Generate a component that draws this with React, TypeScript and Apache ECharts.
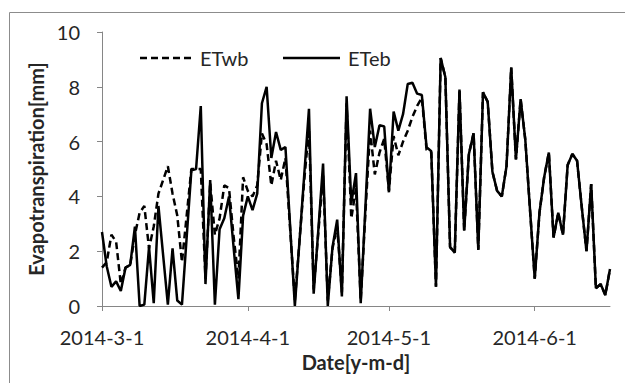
import React, { useEffect, useRef } from "react";
import * as echarts from "echarts";

const START = { y: 2014, m: 3, d: 1 };
const DAY_COUNT = 109; // 2014-3-1 .. 2014-6-17

const ETeb: number[] = [
  2.7, 1.45, 0.7, 0.9, 0.55, 1.4, 1.5, 2.9, 0.0, 0.05,
  2.15, 0.1, 3.65, 1.85, 0.05, 2.1, 0.2, 0.05, 2.5, 4.95,
  5.0, 7.3, 0.8, 4.6, 0.05, 2.8, 3.2, 4.0, 2.1, 0.25,
  3.3, 4.0, 3.5, 4.1, 7.4, 8.0, 5.4, 6.35, 5.7, 5.8,
  2.9, 0.0, 2.4, 4.8, 7.2, 0.45, 2.8, 5.2, 0.0, 2.15,
  3.15, 0.35, 7.65, 3.75, 4.85, 0.1, 3.6, 7.2, 5.8, 6.6,
  6.55, 4.15, 7.1, 6.4, 7.0, 8.1, 8.15, 7.75, 7.7, 5.8,
  5.65, 0.7, 9.05, 8.35, 2.15, 1.95, 7.9, 2.75, 5.55, 6.3,
  2.05, 7.8, 7.45, 4.9, 4.2, 4.0, 5.1, 8.7, 5.35, 7.55,
  6.05, 3.5, 1.0, 3.4, 4.7, 5.6, 2.5, 3.4, 2.6, 5.15,
  5.55, 5.3, 3.6, 2.0, 4.45, 0.65, 0.8, 0.4, 1.35,
];

const ETwb: number[] = [
  1.4, 1.6, 2.6, 2.35, 0.8, 1.4, 1.5, 2.6, 3.4, 3.65,
  2.1, 2.9, 4.1, 4.6, 5.1, 4.1, 3.3, 1.6, 3.3, 5.0,
  5.0, 5.0, 1.0, 4.5, 2.6, 3.2, 4.4, 4.3, 2.5, 1.0,
  4.7, 4.2, 4.0, 4.4, 6.3, 5.9, 4.4, 5.3, 4.6, 5.4,
  2.8, 0.2, 2.4, 4.6, 6.5, 0.6, 2.7, 4.8, 0.2, 2.1,
  2.9, 0.5, 7.4, 3.2, 4.3, 0.2, 3.4, 6.4, 4.8, 5.6,
  6.1, 4.2, 6.2, 5.5, 6.0, 6.4, 6.9, 7.3, 7.6, 5.7,
  5.6, 0.7, 9.05, 8.35, 2.15, 1.95, 7.9, 2.75, 5.55, 6.3,
  2.05, 7.8, 7.45, 4.9, 4.2, 4.0, 5.1, 8.7, 5.35, 7.55,
  6.05, 3.5, 1.0, 3.4, 4.7, 5.6, 2.5, 3.4, 2.6, 5.15,
  5.55, 5.3, 3.6, 2.0, 4.45, 0.65, 0.8, 0.4, 1.35,
];

const yTicks = [0, 2, 4, 6, 8, 10];
const seriesNames = ["ETwb", "ETeb"];
const xTitle = "Date[y-m-d]";
const yTitle = "Evapotranspiration[mm]";

function buildDates(): string[] {
  const out: string[] = [];
  for (let i = 0; i < DAY_COUNT; i++) {
    const dt = new Date(Date.UTC(START.y, START.m - 1, START.d + i));
    out.push(`${dt.getUTCFullYear()}-${dt.getUTCMonth() + 1}-${dt.getUTCDate()}`);
  }
  return out;
}

const dates = buildDates();
const isMonthStart = (_i: number, v: string) => v.split("-")[2] === "1";

const FONT = "Lato, 'Open Sans', sans-serif";
const TXT = "#262626";
const AX = "#868686";

export default function App() {
  const ref = useRef<HTMLDivElement>(null);
  useEffect(() => {
    if (!ref.current) return;
    const chart = echarts.init(ref.current, undefined, { renderer: "svg" });
    chart.setOption({
      animation: false,
      backgroundColor: "#ffffff",
      grid: { left: 102, right: 15, top: 32, bottom: 77 },
      xAxis: {
        type: "category",
        data: dates,
        boundaryGap: false,
        axisLine: { lineStyle: { color: AX, width: 1 } },
        axisTick: { interval: isMonthStart, length: 5, lineStyle: { color: AX } },
        axisLabel: {
          interval: isMonthStart,
          margin: 21,
          fontFamily: FONT,
          fontSize: 20,
          color: TXT,
        },
        name: xTitle,
        nameLocation: "middle",
        nameGap: 46,
        nameTextStyle: { fontFamily: FONT, fontSize: 20, fontWeight: "bold", color: TXT },
      },
      yAxis: {
        type: "value",
        min: yTicks[0],
        max: yTicks[yTicks.length - 1],
        interval: 2,
        splitLine: { show: false },
        axisLine: { show: true, lineStyle: { color: AX, width: 1 } },
        axisTick: { show: true, length: 5, lineStyle: { color: AX } },
        axisLabel: { margin: 22, fontFamily: FONT, fontSize: 20, color: TXT },
        name: yTitle,
        nameLocation: "middle",
        nameGap: 55,
        nameRotate: 90,
        nameTextStyle: { fontFamily: FONT, fontSize: 20, fontWeight: "bold", color: TXT },
      },
      series: [
        {
          name: seriesNames[0],
          type: "line",
          data: ETwb,
          symbol: "none",
          lineStyle: { color: "#000", width: 2.5, type: [7, 4] },
          z: 2,
        },
        {
          name: seriesNames[1],
          type: "line",
          data: ETeb,
          symbol: "none",
          lineStyle: { color: "#000", width: 2.5, type: "solid" },
          z: 3,
        },
      ],
      graphic: [
        {
          type: "rect",
          shape: { x: 9.5, y: 12.5, width: 700, height: 500 },
          style: { fill: "none", stroke: "#8c8c8c", lineWidth: 1 },
          silent: true,
        },
        {
          type: "line",
          shape: { x1: 140, y1: 58, x2: 193, y2: 58 },
          style: { stroke: "#000", lineWidth: 2.5, lineDash: [7, 4] },
        },
        {
          type: "text",
          x: 200,
          y: 58,
          style: { text: seriesNames[0], fontFamily: FONT, fontSize: 20, fill: TXT, verticalAlign: "middle" },
        },
        {
          type: "line",
          shape: { x1: 283, y1: 58, x2: 340, y2: 58 },
          style: { stroke: "#000", lineWidth: 2.5 },
        },
        {
          type: "text",
          x: 348,
          y: 58,
          style: { text: seriesNames[1], fontFamily: FONT, fontSize: 20, fill: TXT, verticalAlign: "middle" },
        },
      ],
    });
    return () => chart.dispose();
  }, []);
  return (
    <div
      ref={ref}
      style={{ position: "absolute", left: 0, top: 0, width: 625, height: 383, background: "#fff" }}
    />
  );
}
